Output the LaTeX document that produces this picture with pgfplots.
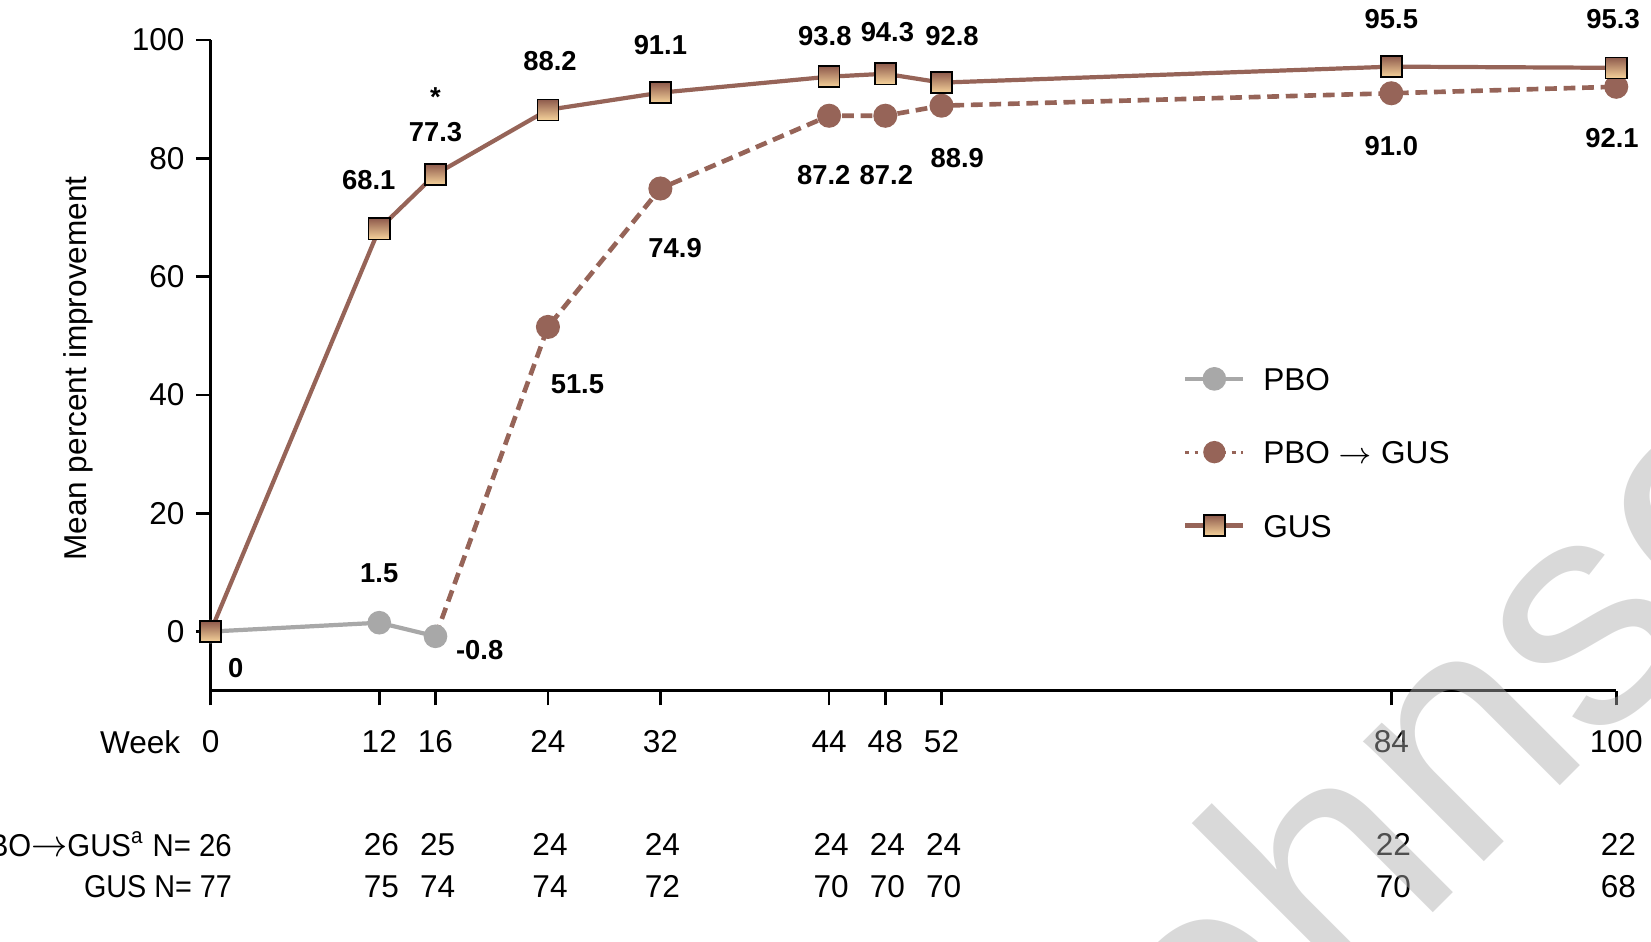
\documentclass[border=0pt]{standalone}
\usepackage{fontspec}
\setmainfont{Liberation Sans}
\usepackage{graphicx}
\usepackage{pgfplots}
\pgfplotsset{compat=1.18}

\definecolor{gusline}{HTML}{966458}
\definecolor{gustop}{HTML}{8E5A4C}
\definecolor{gusbot}{HTML}{F6D39B}
\definecolor{pbogray}{HTML}{A8A8A8}

% shaded square marker for the GUS arm
\pgfdeclareplotmark{gussquare}{%
  \shade[top color=gustop, bottom color=gusbot, draw=black, line width=0.35pt, solid]
    (-\pgfplotmarksize,-\pgfplotmarksize) rectangle (\pgfplotmarksize,\pgfplotmarksize);}

\newcommand{\labfont}{\fontsize{6.5}{7}\selectfont\bfseries}
\newcommand{\txtfont}{\fontsize{7.5}{9}\selectfont}
% numbers at risk below a given week
\newcommand{\atrisk}[3]{%
  \node[font=\txtfont] at (axis cs:#1,-10) [xshift=0.5pt, yshift=-36.5pt] {#2};
  \node[font=\txtfont] at (axis cs:#1,-10) [xshift=0.5pt, yshift=-46.5pt] {#3};}

\begin{document}
\begin{tikzpicture}
\useasboundingbox (-50pt,-59.5pt) rectangle (342pt,164pt);
\begin{axis}[
  scale only axis,
  width=333.75pt, height=154.5pt,
  xmin=0, xmax=100, ymin=-10, ymax=100,
  clip=false,
  axis x line*=bottom, axis y line*=left,
  axis line style={line width=0.6pt, black},
  tick align=outside,
  major tick length=3.5pt,
  tick style={line width=0.6pt, black},
  xtick={0,12,16,24,32,44,48,52,84,100},
  ytick={0,20,40,60,80,100},
  /pgf/number format/assume math mode=true,
  tick label style={font=\txtfont},
  xticklabel style={anchor=north, inner sep=0pt, yshift=-5.75pt},
  yticklabel style={anchor=east, inner sep=0pt, xshift=-2.5pt},
  legend image code/.code={\draw[mark repeat=2, mark phase=2, #1]
     plot coordinates {(0pt,0pt) (6.875pt,0pt) (13.75pt,0pt)};},
  legend cell align=left,
  legend style={at={(0.6914,0.4984)}, anchor=north west, draw=none, fill=none,
     inner sep=0pt, row sep=11.9pt, column sep=4.25pt, font=\txtfont,
     nodes={inner sep=0pt, text height=5.5pt, text depth=0pt}},
]
% placebo, weeks 0-16
\addplot[pbogray, line width=1pt, mark=*, mark size=2.3pt,
         mark options={solid, fill=pbogray, draw=pbogray}]
  coordinates {(0,0) (12,1.5) (16,-0.8)};
\addlegendentry{PBO}
% placebo crossed over to guselkumab (week 16 point belongs to the placebo arm)
\addplot[gusline, line width=1.1pt, dash pattern=on 2.8pt off 1.6pt,
         mark=*, mark size=2.3pt, mark indices={2,...,8},
         mark options={solid, fill=gusline, draw=gusline},
         legend image post style={mark indices={2}, dash pattern=on 0.9pt off 1.3pt, line width=0.7pt}]
  coordinates {(16,-0.8) (24,51.5) (32,74.9) (44,87.2) (48,87.2) (52,88.9) (84,91.0) (100,92.1)};
\addlegendentry{PBO $\rightarrow$ GUS}
% guselkumab
\addplot[gusline, line width=1pt, mark=gussquare, mark size=2.5pt]
  coordinates {(0,0) (12,68.1) (16,77.3) (24,88.2) (32,91.1) (44,93.8) (48,94.3) (52,92.8) (84,95.5) (100,95.3)};
\addlegendentry{GUS}

% value labels
\node[font=\labfont] at (axis cs:0,0)     [xshift=6pt,   yshift=-8.75pt] {0};
\node[font=\labfont] at (axis cs:12,1.5)  [yshift=11.75pt] {1.5};
\node[font=\labfont] at (axis cs:16,-0.8) [xshift=10.5pt, yshift=-3.25pt] {-0.8};
\node[font=\labfont] at (axis cs:12,68.1) [xshift=-2.5pt, yshift=11.5pt] {68.1};
\node[font=\labfont] at (axis cs:16,77.3) [yshift=10pt] {77.3};
\node[font=\labfont] at (axis cs:16,77.3) [yshift=18.25pt] {*};
\node[font=\labfont] at (axis cs:24,88.2) [xshift=0.5pt, yshift=11.5pt] {88.2};
\node[font=\labfont] at (axis cs:32,91.1) [yshift=11.25pt] {91.1};
\node[font=\labfont] at (axis cs:44,93.8) [xshift=-1pt, yshift=9.75pt] {93.8};
\node[font=\labfont] at (axis cs:48,94.3) [xshift=0.5pt, yshift=10pt] {94.3};
\node[font=\labfont] at (axis cs:52,92.8) [xshift=2.5pt, yshift=11pt] {92.8};
\node[font=\labfont] at (axis cs:84,95.5) [yshift=11.25pt] {95.5};
\node[font=\labfont] at (axis cs:100,95.3) [xshift=-0.75pt, yshift=11.5pt] {95.3};
\node[font=\labfont] at (axis cs:24,51.5) [xshift=7pt,   yshift=-13.5pt] {51.5};
\node[font=\labfont] at (axis cs:32,74.9) [xshift=3.5pt, yshift=-14.25pt] {74.9};
\node[font=\labfont] at (axis cs:44,87.2) [xshift=-1.25pt, yshift=-14pt] {87.2};
\node[font=\labfont] at (axis cs:48,87.2) [xshift=0.25pt, yshift=-14pt] {87.2};
\node[font=\labfont] at (axis cs:52,88.9) [xshift=3.75pt, yshift=-12.5pt] {88.9};
\node[font=\labfont] at (axis cs:84,91.0) [yshift=-12.5pt] {91.0};
\node[font=\labfont] at (axis cs:100,92.1) [xshift=-1pt, yshift=-12.25pt] {92.1};

% numbers at risk
\atrisk{12}{26}{75}
\atrisk{16}{25}{74}
\atrisk{24}{24}{74}
\atrisk{32}{24}{72}
\atrisk{44}{24}{70}
\atrisk{48}{24}{70}
\atrisk{52}{24}{70}
\atrisk{84}{22}{70}
\atrisk{100}{22}{68}
\end{axis}

\node[font=\txtfont, anchor=east, inner sep=0pt] at (-7pt,-12.25pt) {Week};
\node[font=\txtfont, anchor=east, inner sep=0pt] at (5.25pt,-36.5pt)
  {\scalebox{0.93}[1]{PBO{\small$\rightarrow$}GUS\textsuperscript{a} N=~26}};
\node[font=\txtfont, anchor=east, inner sep=0pt] at (5.25pt,-46.5pt)
  {\scalebox{0.91}[1]{GUS N=~77}};
\node[font=\txtfont, rotate=90] at (-31.5pt,76.5pt) {Mean percent improvement};

% watermark
\node[rotate=45, anchor=base west, inner sep=0pt, font=\fontsize{76.5}{80}\selectfont,
      text=black!32, opacity=0.46] at (211.25pt,-131.75pt) {Johnson};
\end{tikzpicture}
\end{document}
